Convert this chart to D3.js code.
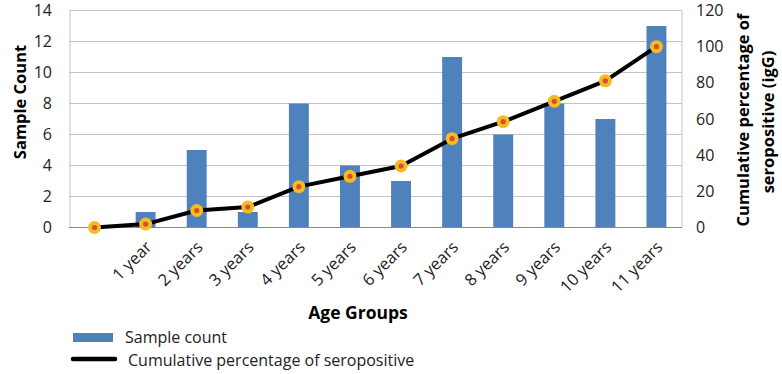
<!DOCTYPE html>
<html>
<head>
<meta charset="utf-8">
<script src="https://cdn.jsdelivr.net/npm/d3@7"></script>
<style>
  body { margin: 0; background: #fff; }
  svg { font-family: "Open Sans", "Liberation Sans", sans-serif; }
</style>
</head>
<body>
<div id="chart"></div>
<script>
// age groups (first slot is the unlabelled starting point)
var groups = ["", "1 year", "2 years", "3 years", "4 years", "5 years", "6 years", "7 years", "8 years", "9 years", "10 years", "11 years"]
var sampleCount = [0, 1, 5, 1, 8, 4, 3, 11, 6, 8, 7, 13]
var cumPercent = [0, 1.9, 9.4, 11.3, 22.6, 28.3, 34.0, 49.1, 58.5, 69.8, 81.1, 100]
var leftTicks = [0, 2, 4, 6, 8, 10, 12, 14]
var rightTicks = [0, 20, 40, 60, 80, 100, 120]

var W = 782, H = 374
var plotL = 69, plotR = 682, plotT = 10.5, plotB = 227.5

var svg = d3.select("#chart").append("svg")
    .attr("width", W)
    .attr("height", H)

var x = d3.scaleBand().domain(groups).range([plotL, plotR]).padding(0)
var yL = d3.scaleLinear().domain([0, 14]).range([plotB, plotT])
var yR = d3.scaleLinear().domain([0, 120]).range([plotB, plotT])

// gridlines
svg.append("g").selectAll("line")
  .data(leftTicks.slice(1))
  .enter().append("line")
    .attr("x1", plotL).attr("x2", plotR)
    .attr("y1", function(d) { return yL(d) }).attr("y2", function(d) { return yL(d) })
    .attr("stroke", "#c4c4c4").attr("stroke-width", 1)

// frame sides
svg.append("line").attr("x1", plotL + 1).attr("x2", plotL + 1).attr("y1", plotT).attr("y2", plotB)
   .attr("stroke", "#c4c4c4")
svg.append("line").attr("x1", plotR).attr("x2", plotR).attr("y1", plotT).attr("y2", plotB)
   .attr("stroke", "#c4c4c4")

// bars
var barW = x.bandwidth() * 0.39
svg.append("g").selectAll("rect")
  .data(groups)
  .enter().append("rect")
    .attr("x", function(d) { return x(d) + (x.bandwidth() - barW) / 2 })
    .attr("y", function(d, i) { return yL(sampleCount[i]) })
    .attr("width", barW)
    .attr("height", function(d, i) { return plotB - yL(sampleCount[i]) })
    .attr("fill", "#4f81bd")

// bottom axis line
svg.append("line").attr("x1", plotL).attr("x2", plotR).attr("y1", plotB).attr("y2", plotB)
   .attr("stroke", "#888").attr("stroke-width", 1.2)

// cumulative line
var cx = function(d, i) { return x(groups[i]) + x.bandwidth() / 2 }
svg.append("path")
  .datum(cumPercent)
  .attr("fill", "none")
  .attr("stroke", "#000")
  .attr("stroke-width", 4)
  .attr("stroke-linejoin", "round")
  .attr("d", d3.line().x(cx).y(function(d) { return yR(d) }))

var pts = svg.append("g").selectAll("g")
  .data(cumPercent)
  .enter().append("g")
    .attr("transform", function(d, i) { return "translate(" + cx(d, i) + "," + yR(d) + ")" })
pts.append("circle").attr("r", 6.5).attr("fill", "#f4bb22")
pts.append("circle").attr("r", 2.6).attr("fill", "#d5502c")

// left axis
var ax1 = svg.append("g")
  .attr("transform", "translate(" + (plotL - 17) + ",0)")
  .call(d3.axisLeft(yL).tickValues(leftTicks).tickSize(0).tickPadding(0))
ax1.select(".domain").remove()
ax1.selectAll("text").attr("font-size", "16px").attr("fill", "#222").attr("font-family", "Open Sans")

// right axis
var ax2 = svg.append("g")
  .attr("transform", "translate(" + (plotR + 14) + ",0)")
  .call(d3.axisRight(yR).tickValues(rightTicks).tickSize(0).tickPadding(0))
ax2.select(".domain").remove()
ax2.selectAll("text").attr("font-size", "16px").attr("fill", "#222").attr("font-family", "Open Sans")

// x labels
svg.append("g").selectAll("text")
  .data(groups)
  .enter().append("text")
    .attr("transform", function(d, i) { return "translate(" + (cx(d, i) + 3) + ",244) rotate(-45)" })
    .attr("text-anchor", "end")
    .attr("dy", "0.35em")
    .attr("font-size", "16.5px")
    .attr("fill", "#222")
    .text(function(d) { return d })

// axis titles
svg.append("text")
  .attr("transform", "translate(20,102) rotate(-90)")
  .attr("text-anchor", "middle")
  .attr("dy", "0.35em")
  .attr("font-size", "16.5px").attr("font-weight", "bold")
  .text("Sample Count")

svg.append("text")
  .attr("transform", "translate(743,120) rotate(-90)")
  .attr("text-anchor", "middle")
  .attr("dy", "0.35em")
  .attr("font-size", "16.5px").attr("font-weight", "bold")
  .text("Cumulative percentage of")
svg.append("text")
  .attr("transform", "translate(768,122) rotate(-90)")
  .attr("text-anchor", "middle")
  .attr("dy", "0.35em")
  .attr("font-size", "16.5px").attr("font-weight", "bold")
  .text("seropositive (igG)")

svg.append("text")
  .attr("x", 358).attr("y", 313)
  .attr("text-anchor", "middle")
  .attr("dy", "0.35em")
  .attr("font-size", "17.5px").attr("font-weight", "bold")
  .text("Age Groups")

// legend
svg.append("rect").attr("x", 73).attr("y", 333).attr("width", 40).attr("height", 9).attr("fill", "#4f81bd")
svg.append("text").attr("x", 125).attr("y", 337).attr("dy", "0.35em")
   .attr("font-size", "16px").attr("fill", "#222").text("Sample count")
svg.append("line").attr("x1", 73).attr("x2", 115).attr("y1", 359).attr("y2", 359)
   .attr("stroke", "#000").attr("stroke-width", 4.5).attr("stroke-linecap", "round")
svg.append("text").attr("x", 128).attr("y", 360).attr("dy", "0.35em")
   .attr("font-size", "16px").attr("fill", "#222").text("Cumulative percentage of seropositive")
</script>
</body>
</html>
